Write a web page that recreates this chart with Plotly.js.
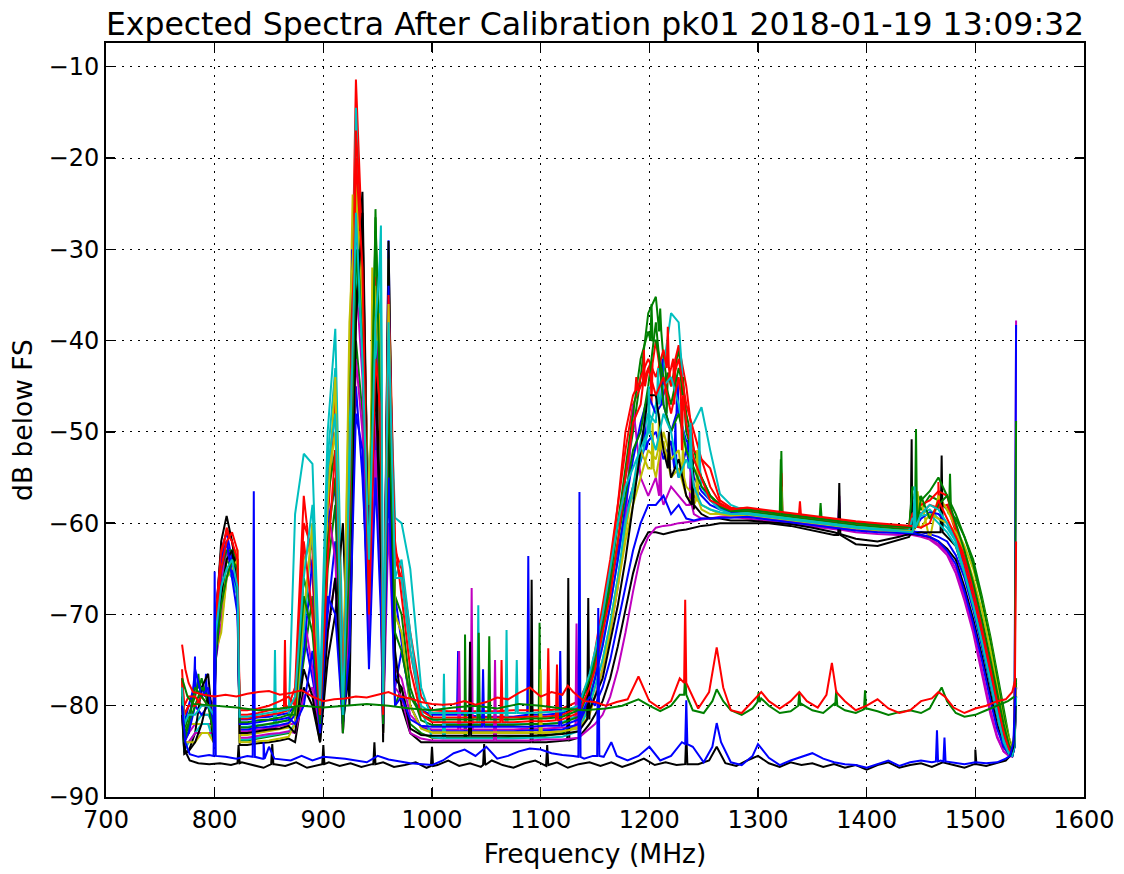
<!DOCTYPE html>
<html>
<head>
<meta charset="utf-8">
<script src="https://cdn.plot.ly/plotly-3.0.1.min.js"></script>
<style>html,body{margin:0;padding:0;background:#fff}</style>
</head>
<body>
<div id="chart" style="width:1124px;height:874px"></div>
<script>
// Shared frequency grid (MHz) for the in-band spectra
const freqGrid = [770, 772, 776, 782, 788, 794, 799,
  801, 806, 811, 816, 821,
  823, 830, 840, 850, 860, 868,
  874, 882, 890, 897, 904, 911, 918, 924, 930, 936, 942, 948, 953, 955, 960, 966,
  972, 980, 990, 1000, 1015, 1030, 1045, 1060, 1075, 1090, 1105, 1120, 1135, 1145,
  1150, 1157, 1164, 1171, 1178, 1185, 1192, 1199,
  1206, 1213, 1220, 1227, 1234, 1241, 1248, 1256, 1265, 1275,
  1290, 1310, 1330, 1350, 1370, 1390, 1410, 1430, 1439,
  1442, 1450, 1458, 1466, 1474, 1482, 1490, 1498, 1506, 1514, 1520, 1526, 1531, 1534, 1536, 1537.5];

// Series colours (matplotlib classic cycle)
const seriesColors = ['#0000ff', '#008000', '#ff0000', '#00bfbf', '#bf00bf', '#bfbf00', '#000000',
                      '#0000ff', '#008000', '#ff0000', '#00bfbf', '#bf00bf', '#bfbf00', '#000000',
                      '#0000ff', '#008000', '#ff0000', '#00bfbf'];

// dB below FS for each input, on freqGrid
const s01 = [-78, -82, -80, -77, -78, -79, -80,
  -70, -63, -61, -64, -66,
  -81.5, -81.5, -81.3, -81.2, -81, -80.8,
  -80, -72, -77, -82, -70, -62, -81, -68, -45, -55, -70, -50, -60, -81, -29, -78,
  -74, -79, -80.5, -81, -81, -81, -81.2, -81.2, -81.2, -81, -81, -80.8, -80, -77.5,
  -75, -71, -67, -63, -59, -56, -53, -51,
  -50, -53, -51, -55, -52, -56, -57, -58, -58.5, -58.7,
  -58.9, -59.2, -59.5, -59.8, -60.1, -60.4, -60.6, -60.8, -60.9,
  -60.9, -61, -61.2, -61.5, -62, -63.5, -66, -69.5, -73.5, -78, -81, -83.5, -85, -85.3, -84, -78];
const s02 = [-77, -83, -81, -79, -77, -80, -82,
  -72, -66, -64, -65, -64,
  -83.8, -83.8, -83.6, -83.4, -83.2, -83,
  -82, -75, -68, -83, -65, -58, -83, -72, -40, -48, -74, -25.6, -55, -83, -50, -80,
  -78, -82, -83, -83.5, -83.5, -83.5, -83.5, -83.5, -83.4, -83.4, -83.3, -83, -82, -79,
  -77, -72, -66, -60, -55, -50, -44, -37,
  -35.2, -42, -45, -41, -48, -52, -55, -57, -58, -58.5,
  -58.6, -58.9, -59.2, -59.5, -59.8, -60.1, -60.3, -60.5, -60.6,
  -57, -58.5, -57, -57.5, -58.5, -59.5, -61.5, -64, -68, -72.5, -76.5, -80.5, -83.5, -84.8, -83.5, -77];
const s03 = [-76, -81, -80, -80, -81, -81, -81,
  -70, -64, -60.5, -62, -65,
  -81, -81, -80.8, -80.5, -80.3, -80,
  -78, -57, -66, -80, -60, -46, -78, -51, -11.4, -30, -66, -36, -52, -80, -33, -63,
  -65, -72, -79, -80.5, -80.6, -80.6, -80.6, -80.6, -80.5, -80.5, -80.5, -80.3, -79.5, -77,
  -74, -69, -64, -58, -52, -47, -45, -43,
  -40, -46, -43, -40.5, -45, -52, -53, -54, -57.5, -58.3,
  -58.4, -58.7, -59, -59.3, -59.6, -59.9, -60.1, -60.3, -60.4,
  -58, -59, -58, -58.5, -58, -61, -64, -67.5, -71.5, -76, -79.5, -82.5, -84.5, -85, -84, -79];
const s04 = [-79, -83, -82, -82, -81, -81, -82,
  -73, -68, -63, -63, -66,
  -82.3, -82.3, -82.1, -82, -81.8, -81.5,
  -59, -52.4, -53.5, -78, -50, -38.7, -75, -62, -14.5, -38, -60, -45, -27.4, -79, -39, -59.4,
  -60, -65, -78, -81.5, -82, -82, -82, -82, -82, -82, -82, -81.8, -81, -78.5,
  -76, -73, -69, -64, -59, -57, -53, -50,
  -47, -43, -37, -38, -50, -49, -47.3, -52, -56.8, -58,
  -58.7, -59, -59.3, -59.6, -59.9, -60.2, -60.4, -60.6, -60.7,
  -58.5, -59, -58.5, -59.5, -60.5, -62, -65, -68.5, -72.5, -77, -80.5, -83.5, -85, -85.3, -84, -78];
const s05 = [-80, -84, -83, -82, -82, -82, -82,
  -74, -66, -63, -65, -68,
  -82.8, -82.8, -82.6, -82.5, -82.2, -82,
  -82, -70, -76, -82, -58, -64, -82, -66, -33, -44, -72, -48, -58, -82, -42, -76,
  -77, -81, -82.3, -82.6, -82.6, -82.6, -82.6, -82.6, -82.6, -82.5, -82.5, -82.4, -82, -80.5,
  -79, -76, -72, -67, -60, -47, -55, -57,
  -55, -58, -56, -57, -58, -59, -59.5, -59.5, -59.4, -59.3,
  -59.5, -59.8, -60.1, -60.4, -60.7, -61, -61.2, -61.3, -61.3,
  -61.3, -61.5, -61.8, -62.5, -63.5, -65.5, -68.5, -72, -76.5, -81, -83.5, -85, -85.5, -85.5, -84.5, -37.8];
const s06 = [-78, -83, -82, -82, -82, -82, -83,
  -73, -70, -64, -63, -63,
  -83.2, -83.2, -83, -82.8, -82.6, -82.4,
  -80, -64, -62, -83, -56, -50, -80, -42, -22, -35, -62, -30, -45, -83, -31, -70,
  -72, -80, -82.5, -83, -83, -83, -83, -83, -83, -83, -83, -82.8, -82.3, -80,
  -78, -75, -71, -66, -61, -56, -52, -54,
  -55, -50, -53, -52, -56, -57, -58, -58.5, -59, -59,
  -58.8, -59.1, -59.4, -59.7, -60, -60.3, -60.5, -60.7, -60.7,
  -56.8, -57.5, -61.8, -57, -58.5, -60.5, -62.5, -65, -68.5, -73, -77, -81, -83.5, -84.5, -83, -78];
const s07 = [-80, -85.3, -85, -83, -78, -76.5, -83,
  -71, -62, -59.2, -62, -66,
  -84.3, -84.3, -84.1, -84, -83.8, -83.6,
  -84, -78, -80, -84, -75, -70, -60, -80, -36, -23.7, -66, -40, -62, -84, -29.1, -74,
  -80, -83, -84, -84, -84, -84, -84, -84, -84, -84, -84, -83.8, -83.5, -82,
  -81, -79.5, -77, -73.5, -69.5, -65.5, -62.5, -61,
  -61, -61.2, -61, -60.8, -60.7, -60.5, -60.3, -60.2, -60, -60,
  -60, -60, -60.3, -60.8, -61.3, -62.3, -62.5, -61.8, -61.5,
  -61.2, -61, -61, -61, -61.5, -62.5, -65.5, -69, -73, -77.5, -81, -84, -85.3, -85.5, -84.5, -79];
const s08 = [-79, -83, -83, -76, -79, -78, -83,
  -75, -65, -62, -66, -70,
  -82, -82, -81.8, -81.6, -81.5, -81.3,
  -82, -80, -74, -83, -68, -70, -82, -74, -48, -52, -76, -55, -70, -82, -55, -80,
  -79, -81.5, -82.2, -82.3, -82.3, -82.3, -82.3, -82.3, -82.3, -82.3, -82.2, -82.2, -81.5, -79,
  -80, -78, -75, -71, -67, -63, -60, -58,
  -58, -57, -59, -58, -59.5, -59.7, -59.5, -59.5, -59.4, -59.4,
  -59.3, -59.6, -59.9, -60.2, -60.5, -60.8, -61, -61.1, -61.1,
  -61.1, -61.3, -61.5, -62, -63, -64.5, -67.5, -71, -75, -79.5, -82.5, -84.5, -85.3, -85.5, -84.5, -38.3];
const s09 = [-79, -84, -82, -78, -79, -80, -83,
  -74, -69, -66, -64, -65,
  -81.8, -81.8, -81.6, -81.5, -81.3, -81,
  -81, -68, -72, -82, -62, -55, -83, -64, -30, -40, -68, -26.5, -50, -82, -45, -72,
  -74, -79, -81, -81.5, -81.5, -81.5, -81.5, -81.5, -81.5, -81.4, -81.4, -81.2, -80.5, -77,
  -75, -71.5, -67, -62, -57, -52, -50, -45,
  -38, -47, -50, -48, -52, -54, -56, -57, -58, -58.6,
  -58.5, -58.8, -59.1, -59.4, -59.7, -60, -60.2, -60.4, -60.5,
  -60.5, -57, -59.5, -58, -57, -60, -63, -66.5, -70.5, -75, -78.5, -82, -84.3, -85, -84, -48.8];
const s10 = [-77, -80, -79, -79, -80, -80, -80,
  -71, -65, -62, -61, -63,
  -80.5, -80.5, -80.3, -80, -79.5, -79,
  -80, -62, -70, -81, -64, -52, -79, -58, -20, -32, -70, -42, -48, -81, -40, -62,
  -68, -76, -81, -81.8, -81.8, -81.8, -81.8, -81.8, -81.8, -81.7, -81.7, -81.5, -80.8, -78,
  -76, -72, -68, -62, -55, -49, -47, -43,
  -46, -44, -48, -44, -49, -53, -55, -57.5, -58, -58.5,
  -58.3, -58.6, -58.9, -59.2, -59.5, -59.8, -60, -60.2, -60.3,
  -60.3, -60.5, -60, -57.5, -59.5, -61.5, -64.5, -68, -72, -76.5, -80, -83, -84.8, -85.2, -84, -62];
const s11 = [-78, -82, -81, -81, -80, -80, -81,
  -72, -67, -65, -64, -67,
  -81.2, -81.2, -81, -80.8, -80.6, -80.4,
  -79, -66, -58, -80, -54, -48, -81, -55, -26, -42, -64, -38, -30, -80, -38, -66,
  -66, -74, -80, -80.8, -80.8, -80.8, -80.8, -80.8, -80.8, -80.8, -80.7, -80.6, -80, -76.5,
  -74, -70, -65, -60, -56, -54, -52, -49,
  -52, -48, -50, -55, -53, -56, -58, -58.5, -58.8, -59,
  -59, -59.3, -59.6, -59.9, -60.2, -60.5, -60.7, -60.9, -61,
  -61, -59, -58, -58.5, -60, -62, -65.5, -69, -73, -77.5, -81, -84, -85.3, -85.5, -84.5, -79];
const s12 = [-81, -84, -84, -83, -83, -83, -83,
  -75, -71, -66, -64, -66,
  -83.5, -83.5, -83.3, -83.1, -83, -82.8,
  -83, -79, -78, -83, -72, -66, -83, -70, -42, -50, -74, -52, -66, -83, -60, -78,
  -79, -83, -83.6, -83.8, -83.8, -83.8, -83.8, -83.8, -83.8, -83.8, -83.7, -83.7, -83.5, -82.5,
  -82, -81, -79, -76, -72, -67.5, -63.5, -61.5,
  -60.5, -60.3, -60.2, -60, -59.9, -59.8, -59.6, -59.5, -59.3, -59.2,
  -59.2, -59.5, -59.8, -60.1, -60.4, -60.7, -60.9, -61.1, -61.2,
  -61.2, -61.4, -61.7, -62.3, -63.2, -65, -68, -71.5, -76, -80.5, -83.3, -85, -85.5, -85.6, -84.5, -80];
const s13 = [-80, -84, -84, -84, -83, -83, -84,
  -74, -72, -66, -65, -64,
  -84, -84, -83.9, -83.8, -83.6, -83.4,
  -82, -70, -60, -83, -58, -44, -82, -38, -24, -36, -58, -34, -42, -83, -36, -70,
  -72, -80, -82.5, -82.9, -82.9, -82.9, -82.9, -82.9, -82.9, -82.9, -82.9, -82.8, -82.5, -81,
  -79, -76, -72, -67, -62, -58, -55, -52,
  -53, -51, -55, -54, -57, -58, -58.5, -59, -59, -59.2,
  -59.1, -59.4, -59.7, -60, -60.3, -60.6, -60.8, -60.9, -60.9,
  -60.9, -60.5, -59, -59.5, -60, -61, -63, -66, -69.5, -74, -78, -81.8, -84, -84.8, -83.5, -78];
const s14 = [-81, -85, -85, -84, -82, -79, -84,
  -75, -68, -64, -63, -67,
  -83, -83, -82.8, -82.6, -82.5, -82.2,
  -83, -76, -79, -84, -72, -66, -82, -76, -38, -26, -68, -44, -64, -83, -46, -77,
  -78, -82.5, -83.2, -83.3, -83.3, -83.3, -83.3, -83.3, -83.3, -83.3, -83.2, -83.1, -82.8, -80.5,
  -79, -77, -73, -69, -64, -58, -52, -46,
  -46, -52, -55, -53, -57, -58.5, -59, -59.5, -59.5, -59.7,
  -59.7, -59.9, -60.1, -60.5, -61, -61.7, -62, -61.5, -61.2,
  -61.2, -61.3, -61.5, -62, -62.8, -64, -67, -70.5, -74.5, -79, -82, -84.5, -85.3, -85.5, -84.5, -79];
const s15 = [-79, -84, -83, -80, -81, -80, -82,
  -70, -64, -62, -65, -68,
  -82.6, -82.6, -82.4, -82.3, -82.1, -81.9,
  -81, -74, -64, -82, -60, -56, -80, -48, -28, -33, -60, -36, -47, -82, -34, -68,
  -73, -80, -82.4, -82.8, -82.8, -82.8, -82.8, -82.8, -82.8, -82.7, -82.7, -82.6, -82, -79.5,
  -77, -73.5, -69, -64, -58, -53, -49, -46,
  -48, -45, -50, -47, -51, -55, -56.5, -57.5, -58.3, -58.8,
  -59, -59.3, -59.6, -59.9, -60.2, -60.5, -60.7, -60.9, -61,
  -61, -59.5, -58.8, -59, -60, -61.8, -64.5, -68, -72, -76.5, -80, -83, -84.8, -85.2, -84, -78];
const s16 = [-78, -83, -82, -80, -78, -79, -82,
  -71, -65, -63, -63, -64,
  -82.4, -82.4, -82.2, -82, -81.8, -81.6,
  -80, -66, -70, -82, -57, -52, -81, -46, -26, -38, -62, -28, -44, -82, -37, -68,
  -70, -78, -81.6, -82.1, -82.1, -82.1, -82.1, -82.1, -82.1, -82, -82, -81.9, -81.2, -78,
  -75.5, -71, -66, -60, -54, -48, -42, -39,
  -40, -44, -47, -43, -50, -53, -55, -57, -58.2, -58.7,
  -58.7, -59, -59.3, -59.6, -59.9, -60.2, -60.4, -60.6, -60.7,
  -56, -57.5, -56.5, -55, -57, -59, -61.5, -64.5, -68.5, -73, -77, -81, -83.8, -84.8, -83.5, -77.5];
const s17 = [-77, -81, -80, -80, -79, -80, -81,
  -70, -63, -61, -62, -64,
  -81.4, -81.4, -81.2, -81, -80.8, -80.5,
  -79, -60, -63, -81, -55, -47, -79, -52, -17, -29, -62, -33, -48, -81, -35, -64,
  -66, -74, -80.5, -81.3, -81.3, -81.3, -81.3, -81.3, -81.3, -81.2, -81.2, -81, -80.2, -77,
  -74.5, -70, -65, -58, -50, -46, -44, -42,
  -44, -41, -45, -42, -47, -50, -53, -56, -57.8, -58.4,
  -58.5, -58.8, -59.1, -59.4, -59.7, -60, -60.2, -60.4, -60.5,
  -59, -58, -57.5, -56.5, -57, -60.5, -63.5, -67, -71, -75.5, -79, -82.3, -84.3, -85, -84, -78];
const s18 = [-80, -85, -84, -83, -82, -82, -84,
  -72, -67, -65, -66, -68,
  -83.7, -83.7, -83.5, -83.3, -83.1, -82.9,
  -82, -72, -60, -83, -53, -43, -82, -50, -32, -40, -57, -42, -35, -83, -41, -66,
  -64, -72, -80.5, -83.4, -83.6, -83.6, -83.6, -83.6, -83.6, -83.5, -83.5, -83.4, -82.8, -80,
  -78, -75, -71, -66, -60, -56, -51, -48,
  -49, -45, -44, -47, -52, -54, -56, -57.5, -58.5, -59,
  -58.9, -59.2, -59.5, -59.8, -60.1, -60.4, -60.6, -60.8, -60.8,
  -59.5, -59.2, -59, -60, -61, -62.5, -65.5, -69, -73, -77.5, -81, -83.8, -85.1, -85.4, -84.2, -79];

// Narrow spikes / jags: [MHz, tip dB, dB at the foot]
const s01Spikes = [[781.9, -74.6, -78], [792, -76.5, -79], [1024, -74, -81], [1088.6, -63.6, -81], [1196, -47, -52], [1224, -49, -54], [1374.8, -57.8, -60.1]];
const s02Spikes = [[785, -76.5, -78], [1030.4, -72.2, -83.5], [1099, -70.9, -83.4], [1210, -36.5, -39], [1216, -48, -43.5], [1321.5, -52.1, -59.1], [1357.6, -57.8, -59.6], [1476.7, -54.6, -59]];
const s03Spikes = [[864.7, -72.8, -80.3], [1107, -73.7, -80.5], [1202, -47, -42.5], [1223, -47, -42], [1321.5, -54.5, -58.9], [1338.6, -57.6, -59.2], [1466, -55.5, -58.3]];
const s04Spikes = [[855.5, -73.9, -82], [1042.6, -69, -82], [1068.6, -71.7, -82], [1321.5, -56.5, -59.3]];
const s05Spikes = [[1025, -74, -82.6], [1036.5, -67.1, -82.6], [1133, -71, -82.2], [1210, -51, -57], [1238, -54, -58], [1374.8, -57, -60.7]];
const s06Spikes = [[927, -24, -33], [945, -32, -48], [1090, -78, -83], [1203, -49, -54], [1231, -51, -55], [1321.5, -56, -59.3]];
const s07Spikes = [[1091.7, -66.2, -84], [1125.4, -66, -83.8], [1374.8, -55.6, -61.3], [1441.4, -50.8, -61.2], [1469, -52.6, -61]];
const s08Spikes = [[1047, -76, -82.3], [1118, -74, -82.2]];
const s09Spikes = [[1043, -72, -81.5], [1052.7, -72.4, -81.5], [1321, -53, -59], [1445.4, -49.7, -60.5]];
const s10Spikes = [[1064, -75, -81.8], [1115, -75.5, -81.6], [1195, -41, -45], [1230, -52, -46]];
const s11Spikes = [[1078, -75, -80.8], [1199.5, -45, -50], [1238, -49, -54], [1444, -56, -60.5]];
const s12Spikes = [[1058, -75, -83.8]];
const s13Spikes = [[933, -28, -30], [951, -37, -40], [1100, -76, -82.9], [1209, -48, -52], [1244, -52, -57.5], [1447, -56.5, -60.3]];
const s14Spikes = [[1035, -73, -83.3], [1143.8, -68.2, -81.5], [1218, -50, -54], [1240, -53, -58]];
const s15Spikes = [[926.5, -30, -42], [1212, -42, -47], [1226, -44, -48], [1236, -54, -51]];
const s16Spikes = [[1202, -36, -40], [1230, -46, -44]];
const s17Spikes = [[1188, -44, -45.5], [1217, -38.5, -43]];
const s18Spikes = [[1011, -76.5, -83.6], [1208, -43, -47], [1246, -50, -55]];

// Out-of-band / noise-floor inputs: [MHz, dB]
const blackFloor = [[770,-80],[773,-85],[777,-86],[785,-86.3],[795,-86.4],[805,-86.3],[815,-86.5],[825,-86.2],[835,-86.5],[845,-86.8],[855,-86.4],[865,-86.6],[875,-86.2],[885,-86.8],[895,-86.5],[905,-86.2],[915,-86.6],[925,-86.3],[935,-86.7],[945,-86.4],[955,-86.2],[965,-86.7],[975,-86.5],[985,-86.2],[995,-86.8],[1005,-86.5],[1015,-86],[1025,-86.6],[1035,-86.3],[1045,-86.7],[1055,-86],[1065,-86.5],[1075,-86.8],[1085,-86.3],[1095,-86],[1105,-86.6],[1115,-86.2],[1125,-86.8],[1135,-86.4],[1145,-86.2],[1155,-86.6],[1165,-86.2],[1175,-86.7],[1185,-86.3],[1195,-85.8],[1205,-86.5],[1215,-86.2],[1225,-86.5],[1245,-86.4],[1255,-86],[1262,-84.5],[1270,-86.3],[1280,-86.6],[1290,-86],[1300,-85.5],[1310,-86.3],[1320,-86.7],[1330,-86.2],[1340,-86.5],[1350,-86.3],[1360,-86.7],[1370,-86.4],[1380,-86.8],[1390,-86.5],[1400,-87],[1410,-86.5],[1420,-86.2],[1430,-86.8],[1440,-86.5],[1450,-86.3],[1460,-86.7],[1470,-86.2],[1480,-86.5],[1490,-86.8],[1500,-86.4],[1510,-86.6],[1520,-86.3],[1528,-86],[1532,-85.5],[1535,-84.5],[1537,-80]];
const blackFloorSpikes = [[822,-84.3,-86.3],[853,-84.2,-86.4],[900,-84.3,-86.4],[947,-84,-86.4],[1000,-84.5,-86.6],[1048,-84.2,-86.5],[1106,-84.3,-86.5],[1234,-83,-86.4],[1500,-84.8,-86.4]];
const blueFloor = [[770,-80],[773,-84],[777,-85.3],[785,-85.6],[795,-85.4],[801,-85.5],[810,-85.6],[820,-85.8],[830,-85.5],[845,-85.8],[850,-84.5],[855,-85.8],[870,-86],[880,-85.5],[890,-86],[900,-85.6],[920,-85.8],[940,-86.2],[950,-85.5],[960,-85.9],[980,-86.3],[1000,-86.5],[1010,-86],[1020,-85.2],[1030,-84.8],[1040,-85.5],[1050,-84.5],[1060,-85.8],[1070,-85.5],[1080,-85],[1090,-84.7],[1100,-84.8],[1110,-85.2],[1120,-85.4],[1130,-85.5],[1140,-85.8],[1148,-85.5],[1158,-85.6],[1165,-84],[1170,-85.5],[1180,-86],[1190,-85.5],[1200,-84.5],[1210,-86],[1220,-85.5],[1230,-84],[1240,-84.5],[1250,-86.2],[1258,-84.5],[1262,-81.9],[1266,-84],[1275,-86.2],[1285,-86.5],[1295,-85.5],[1300,-84.2],[1310,-85.7],[1320,-86.5],[1330,-86],[1340,-85.6],[1350,-85.2],[1360,-85.8],[1370,-86.2],[1380,-86.4],[1390,-86.5],[1400,-86.8],[1410,-86.4],[1420,-86],[1430,-86.6],[1440,-86.2],[1450,-86],[1460,-86.2],[1468,-86],[1480,-86.2],[1490,-86.4],[1500,-86.2],[1510,-86.3],[1520,-86.2],[1528,-85.8],[1532,-85.5],[1535,-84],[1537,-78]];
const blueFloorSpikes = [[800,-65.3,-85.5],[836,-56.5,-85.6],[845,-84,-85.8],[1135.7,-56.6,-85.6],[1153,-69.3,-85.5],[1234,-79.4,-84.2],[1464.7,-82.7,-86.1],[1471.6,-83.5,-86.1]];
const greenFloor = [[770,-77],[775,-79],[780,-79.8],[800,-80],[820,-80.2],[840,-80.5],[860,-80.3],[880,-80],[900,-80.2],[920,-80],[940,-79.8],[960,-80],[980,-80.3],[1000,-80.5],[1020,-80.2],[1040,-80],[1060,-80.3],[1080,-79.8],[1100,-80],[1120,-80.3],[1140,-80.5],[1160,-80.3],[1175,-80],[1190,-79.3],[1200,-80],[1210,-80.6],[1220,-80],[1228,-78.8],[1240,-80.5],[1250,-80.8],[1258,-79.5],[1262,-78.2],[1268,-79.5],[1275,-80.5],[1285,-81],[1295,-80.3],[1303,-79.2],[1310,-80],[1320,-80.8],[1330,-80.6],[1340,-79.8],[1350,-80.5],[1360,-80.8],[1370,-79.8],[1380,-80.5],[1390,-80.8],[1400,-80.3],[1410,-80.6],[1420,-81],[1430,-80.7],[1440,-80.5],[1450,-80.8],[1458,-80.3],[1464,-79],[1469,-78],[1474,-79.5],[1482,-80.8],[1490,-81.2],[1500,-81],[1510,-80.5],[1520,-80],[1530,-79.5],[1536,-79]];
const greenFloorSpikes = [[1233,-76.5,-78.8],[1300.5,-78.5,-79.6],[1338,-78.5,-80],[1372,-78.3,-80],[1398.5,-78.3,-80.4]];
const redFloor = [[770,-73.3],[773,-76],[776,-77.5],[780,-78.5],[790,-78.8],[800,-79],[810,-78.8],[820,-79],[830,-78.7],[840,-78.5],[850,-78.4],[860,-78.8],[870,-78.6],[880,-78.3],[890,-79],[900,-79.5],[910,-79.3],[920,-79.2],[930,-79],[940,-79.1],[950,-78.8],[960,-78.5],[970,-79],[980,-79.2],[990,-79.6],[1000,-79.8],[1010,-79.9],[1020,-79.8],[1030,-79.5],[1040,-79.9],[1050,-79.6],[1060,-79.1],[1070,-79.3],[1080,-78.6],[1090,-78],[1100,-79],[1110,-78.5],[1120,-78.8],[1125,-77.8],[1130,-78.5],[1140,-79.5],[1150,-79.6],[1160,-80],[1170,-79.6],[1180,-79.3],[1190,-76.8],[1200,-79.5],[1210,-80.3],[1220,-79.5],[1228,-77],[1236,-78],[1245,-80.3],[1255,-78.5],[1262,-73.6],[1268,-78],[1275,-80.5],[1285,-80.8],[1295,-79.5],[1303,-78.5],[1310,-79.5],[1320,-80.3],[1330,-79.5],[1338,-78.5],[1345,-79.5],[1355,-80.2],[1363,-78.8],[1368,-75.3],[1372,-78.5],[1380,-79.5],[1390,-80.5],[1400,-80],[1410,-79.3],[1420,-80.3],[1430,-80.8],[1440,-80.5],[1450,-79.5],[1460,-79.2],[1466,-78.5],[1472,-79],[1480,-80.2],[1490,-80.8],[1500,-80.3],[1510,-80],[1520,-79.5],[1528,-79.3],[1534,-78.5],[1537,-77]];
const redFloorSpikes = [[1233,-68.4,-77.5]];

const bandValues = [s01, s02, s03, s04, s05, s06, s07, s08, s09, s10, s11, s12, s13, s14, s15, s16, s17, s18];
const bandSpikes = [s01Spikes, s02Spikes, s03Spikes, s04Spikes, s05Spikes, s06Spikes, s07Spikes,
                    s08Spikes, s09Spikes, s10Spikes, s11Spikes, s12Spikes, s13Spikes, s14Spikes,
                    s15Spikes, s16Spikes, s17Spikes, s18Spikes];
// drawing order of the in-band inputs (later = on top)
const drawOrder = [0, 1, 2, 3, 4, 5, 6, 14, 15, 16, 17, 11, 12, 13, 7, 8, 9, 10];

function buildLine(points, spikes) {
  const pts = points.slice();
  spikes.forEach(function (s) {
    pts.push([s[0] - 1, s[2]]);
    pts.push([s[0], s[1]]);
    pts.push([s[0] + 1, s[2]]);
  });
  pts.sort(function (a, b) { return a[0] - b[0]; });
  return { x: pts.map(function (p) { return p[0]; }), y: pts.map(function (p) { return p[1]; }) };
}

const traces = [];
drawOrder.forEach(function (i) {
  const vals = bandValues[i];
  if (vals.length !== freqGrid.length) {
    throw new Error('series ' + (i + 1) + ' has ' + vals.length + ' values, expected ' + freqGrid.length);
  }
  const pts = freqGrid.map(function (f, k) { return [f, vals[k]]; });
  const line = buildLine(pts, bandSpikes[i]);
  traces.push({ type: 'scatter', mode: 'lines', x: line.x, y: line.y,
    line: { color: seriesColors[i], width: 2 }, hoverinfo: 'skip', showlegend: false });
});

[[blackFloor, blackFloorSpikes, '#000000'],
 [blueFloor, blueFloorSpikes, '#0000ff'],
 [greenFloor, greenFloorSpikes, '#008000'],
 [redFloor, redFloorSpikes, '#ff0000']].forEach(function (d) {
  const line = buildLine(d[0], d[1]);
  traces.push({ type: 'scatter', mode: 'lines', x: line.x, y: line.y,
    line: { color: d[2], width: 2 }, hoverinfo: 'skip', showlegend: false });
});

const axisCommon = {
  ticks: 'inside', ticklen: 9, tickwidth: 1.5, tickcolor: '#000',
  mirror: 'allticks', showline: true, linecolor: '#000', linewidth: 2,
  showgrid: true, gridcolor: '#000', gridwidth: 1, griddash: '2px,6px',
  zeroline: false, tickfont: { size: 24, color: '#000' }
};

const layout = {
  width: 1124, height: 874,
  margin: { l: 106, r: 40, t: 43, b: 77 },
  paper_bgcolor: '#ffffff', plot_bgcolor: '#ffffff',
  showlegend: false,
  font: { family: 'DejaVu Sans, sans-serif', size: 24, color: '#000' },
  title: {
    text: 'Expected Spectra After Calibration pk01 2018-01-19 13:09:32',
    font: { size: 31.5, color: '#000' },
    x: 0.5, xref: 'paper', xanchor: 'center',
    y: 0.972, yref: 'container', yanchor: 'middle'
  },
  xaxis: Object.assign({}, axisCommon, {
    range: [700, 1600], tick0: 700, dtick: 100,
    title: { text: 'Frequency (MHz)', font: { size: 26.5 }, standoff: 12 },
    automargin: false
  }),
  yaxis: Object.assign({}, axisCommon, {
    range: [-90, -7.4], tick0: -90, dtick: 10,
    title: { text: 'dB below FS', font: { size: 26.5 }, standoff: 8 },
    automargin: false
  })
};

Plotly.newPlot('chart', traces, layout, { displayModeBar: false, staticPlot: true });
</script>
</body>
</html>
